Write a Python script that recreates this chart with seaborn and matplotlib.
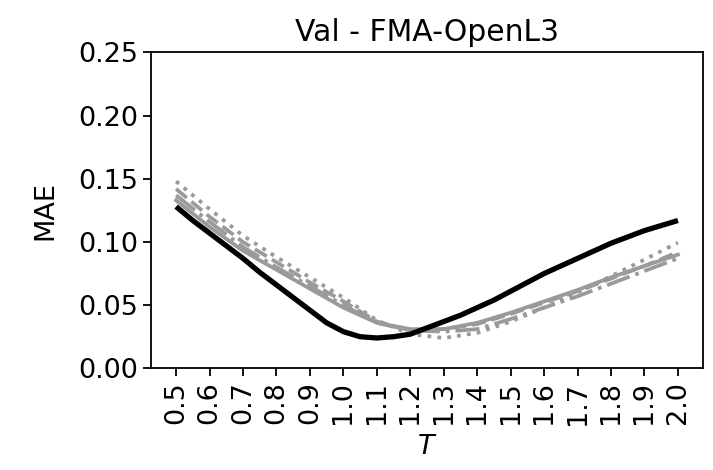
import numpy as np
import pandas as pd
import matplotlib
matplotlib.use("Agg")
import matplotlib.pyplot as plt
import seaborn as sns

# Temperature grid (tick positions) and MAE curves
T = [0.5, 0.6, 0.7, 0.8, 0.9, 1.0, 1.1, 1.2, 1.3, 1.4, 1.5, 1.6, 1.7, 1.8, 1.9, 2.0]
tick_labels = ["0.5", "0.6", "0.7", "0.8", "0.9", "1.0", "1.1", "1.2",
               "1.3", "1.4", "1.5", "1.6", "1.7", "1.8", "1.9", "2.0"]

# main model, sampled every 0.05
T_main = [0.5, 0.55, 0.6, 0.65, 0.7, 0.75, 0.8, 0.85, 0.9, 0.95, 1.0,
          1.05, 1.1, 1.15, 1.2, 1.25, 1.3, 1.35, 1.4, 1.45, 1.5,
          1.55, 1.6, 1.65, 1.7, 1.75, 1.8, 1.85, 1.9, 1.95, 2.0]
mae_main = [0.128, 0.117, 0.107, 0.097, 0.087, 0.076, 0.066, 0.056, 0.046, 0.036, 0.029,
            0.025, 0.024, 0.025, 0.027, 0.032, 0.037, 0.042, 0.048, 0.054, 0.061,
            0.068, 0.075, 0.081, 0.087, 0.093, 0.099, 0.104, 0.109, 0.113, 0.117]

# comparison runs, sampled every 0.1
mae_solid = [0.133, 0.112, 0.093, 0.078, 0.063, 0.048, 0.036, 0.031,
             0.031, 0.036, 0.044, 0.053, 0.062, 0.072, 0.081, 0.090]
mae_dashed = [0.142, 0.120, 0.100, 0.084, 0.068, 0.053, 0.037, 0.030,
              0.031, 0.035, 0.043, 0.052, 0.061, 0.071, 0.081, 0.092]
mae_dashdot = [0.137, 0.116, 0.096, 0.080, 0.065, 0.050, 0.036, 0.030,
               0.029, 0.031, 0.039, 0.048, 0.057, 0.067, 0.077, 0.087]
mae_dotted = [0.148, 0.126, 0.105, 0.088, 0.072, 0.056, 0.038, 0.027,
              0.024, 0.028, 0.037, 0.048, 0.060, 0.073, 0.086, 0.0995]

GRAY = "#9a9a9a"

fig = plt.figure(figsize=(7.13, 4.70), dpi=100)
ax = fig.add_axes([0.2118, 0.2164, 0.7742, 0.6719])

gray_series = [
    (mae_dotted, ":"),
    (mae_dashed, "--"),
    (mae_dashdot, "-."),
    (mae_solid, "-"),
]
for vals, ls in gray_series:
    sns.lineplot(x=T, y=vals, ax=ax, color=GRAY, linestyle=ls, linewidth=2.7)

sns.lineplot(x=T_main, y=mae_main, ax=ax, color="black", linestyle="-",
             linewidth=3.8, solid_joinstyle="round", solid_capstyle="butt")

ax.set_xlim(0.425, 2.075)
ax.set_ylim(0.0, 0.25)
ax.set_xticks(T)
ax.set_xticklabels(tick_labels, rotation=90)
ax.set_yticks([0.0, 0.05, 0.10, 0.15, 0.20, 0.25])
ax.set_yticklabels(["0.00", "0.05", "0.10", "0.15", "0.20", "0.25"])

ax.tick_params(axis="both", labelsize=19.5, length=6, width=1.3)
for sp in ax.spines.values():
    sp.set_linewidth(1.3)

ax.set_xlabel("$T$", fontsize=19.5, labelpad=7)
ax.set_ylabel("MAE", fontsize=19.5, labelpad=14)
ax.set_title("Val - FMA-OpenL3", fontsize=21.5, pad=8)

fig.savefig("out.png", dpi=100)
